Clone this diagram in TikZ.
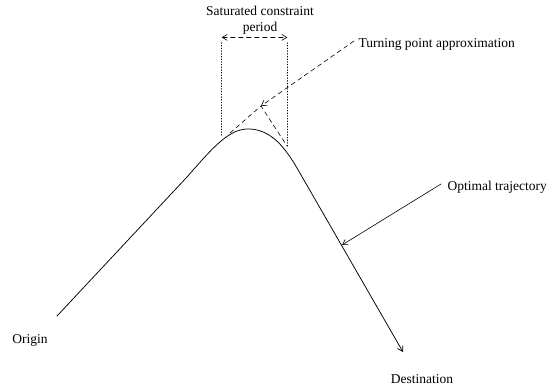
\documentclass[tikz,border=0pt]{standalone}
\usepackage{fontspec}
\setmainfont{Liberation Serif}
\usetikzlibrary{arrows.meta}
\begin{document}
\begin{tikzpicture}[x=1pt, y=-1pt, font=\fontsize{13.5}{16}\selectfont, line join=round, line cap=round, >={Straight Barb[length=5pt,width=6pt]},
	dashline/.style={dash pattern=on 4.5pt off 3.5pt, line width=0.6pt},
	dotline/.style={dotted, line width=0.7pt}]
			\useasboundingbox (0,0) rectangle (549,389);
			\coordinate (O) at (57,316);
			\coordinate (A) at (187,177);
			\coordinate (P) at (250,129);
			\coordinate (B) at (297,168);
			\coordinate (D) at (403,352);
			\coordinate (T1) at (230,133);
			\coordinate (T2) at (287,146);
			\coordinate (X) at (261,106);
			\coordinate (L1) at (221.7,42.7);
			\coordinate (L2) at (221.7,137);
			\coordinate (R1) at (287.3,42.7);
			\coordinate (R2) at (287.3,147);
			\coordinate (M) at (342,245);
			\node (org) at (30,340) {Origin};
			\node (dst) at (422,379) {Destination};
			\node [align=center] (sat) at (260,20) {Saturated constraint\\period};
			\node [anchor=west] (turn) at (355,44) {Turning point approximation};
			\node [anchor=west] (opt) at (444,187) {Optimal trajectory};
			% trajectory
			\draw[->, line width=0.75pt] (O)--(A) .. controls (215,145) and (230,128) .. (P)
				.. controls (268,130) and (282,142) .. (B)--(D);
			% saturated period
			\draw[dotline] (L1)--(L2);
			\draw[dotline] (R1)--(R2);
			\draw[dashline, <->] ([yshift=5.3pt]L1)--([yshift=5.3pt]R1);
			% turning point
			\draw[dashline] (T1)--(X)--(T2);
			\draw[dashline, ->] ([xshift=-1pt,yshift=3pt]turn.west)--(X);
			\draw[->, line width=0.6pt] ([xshift=-3pt,yshift=3pt]opt.west)--(M);
		\end{tikzpicture}
\end{document}
